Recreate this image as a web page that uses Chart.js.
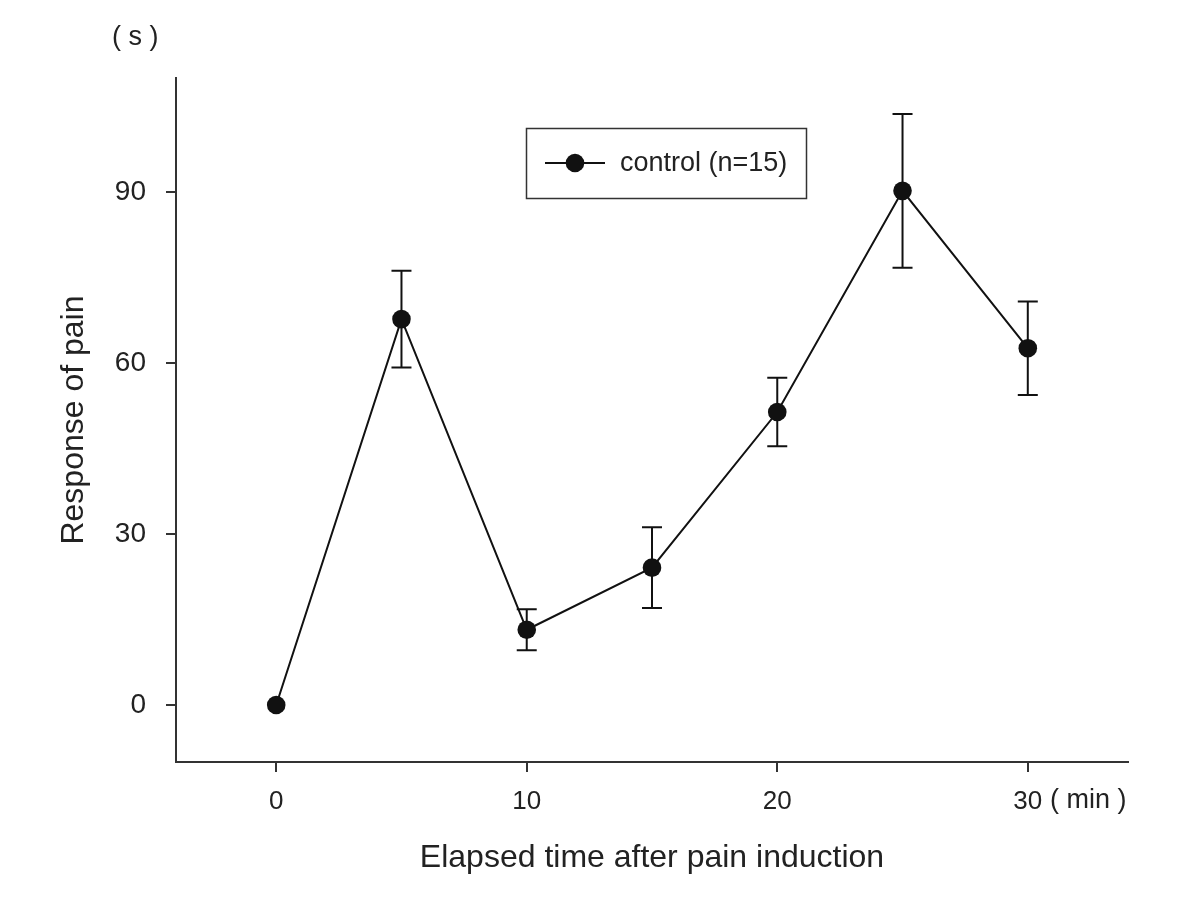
<!DOCTYPE html>
<html lang="en">
  <head>
    <meta charset="UTF-8" />
    <title>Response of pain</title>
    <script src="https://cdn.jsdelivr.net/npm/chart.js"></script>
    <style>
      html, body { margin: 0; padding: 0; background: #fff; }
      .wrap { width: 1200px; height: 897px; }
    </style>
  </head>
  <body>
    <div class="wrap"><canvas id="painChart" width="1200" height="897"></canvas></div>
    <script>
      // data
      const minutes = [0, 5, 10, 15, 20, 25, 30];
      const response = [0, 67.7, 13.2, 24.1, 51.4, 90.2, 62.6];
      const errors = [0, 8.5, 3.6, 7.1, 6.0, 13.5, 8.2];
      const xTicks = [0, 10, 20, 30];
      const yTicks = [0, 30, 60, 90];
      const seriesLabel = "control (n=15)";

      const FONT = "'Liberation Sans', Arial, sans-serif";
      const AXIS = "#333";
      const INK = "#111";

      // error bars, drawn under the markers
      const errorBars = {
        id: "errorBars",
        beforeDatasetsDraw(chart) {
          const { ctx, scales } = chart;
          ctx.save();
          ctx.strokeStyle = INK;
          ctx.lineWidth = 2;
          minutes.forEach((m, i) => {
            if (!errors[i]) return;
            const x = scales.x.getPixelForValue(m);
            const yTop = scales.y.getPixelForValue(response[i] + errors[i]);
            const yBot = scales.y.getPixelForValue(response[i] - errors[i]);
            ctx.beginPath();
            ctx.moveTo(x, yTop); ctx.lineTo(x, yBot);
            ctx.moveTo(x - 10, yTop); ctx.lineTo(x + 10, yTop);
            ctx.moveTo(x - 10, yBot); ctx.lineTo(x + 10, yBot);
            ctx.stroke();
          });
          ctx.restore();
        },
      };

      // legend box + unit labels
      const extras = {
        id: "extras",
        afterDraw(chart) {
          const { ctx } = chart;
          ctx.save();
          ctx.strokeStyle = AXIS;
          ctx.lineWidth = 1.5;
          ctx.strokeRect(526.5, 128.5, 280, 70);
          ctx.strokeStyle = INK;
          ctx.lineWidth = 2;
          ctx.beginPath();
          ctx.moveTo(545, 163); ctx.lineTo(605, 163);
          ctx.stroke();
          ctx.fillStyle = INK;
          ctx.beginPath();
          ctx.arc(575, 163, 9.3, 0, Math.PI * 2);
          ctx.fill();
          ctx.fillStyle = "#222";
          ctx.font = "27px " + FONT;
          ctx.textBaseline = "middle";
          ctx.textAlign = "left";
          ctx.fillText(chart.data.datasets[0].label, 620, 164);
          ctx.fillText("( s )", 112, 38);
          ctx.fillText("( min )", 1050, 801);
          ctx.restore();
        },
      };

      const ctx = document.getElementById("painChart").getContext("2d");
      new Chart(ctx, {
        type: "scatter",
        data: {
          datasets: [
            {
              label: seriesLabel,
              data: minutes.map((m, i) => ({ x: m, y: response[i] })),
              showLine: true,
              borderColor: INK,
              borderWidth: 2,
              backgroundColor: INK,
              pointRadius: 9.3,
              pointHoverRadius: 9.3,
              pointBorderWidth: 0,
            },
          ],
        },
        options: {
          responsive: false,
          animation: false,
          layout: { padding: { left: 0, right: 72, top: 78, bottom: 0 } },
          plugins: { legend: { display: false }, tooltip: { enabled: false } },
          scales: {
            x: {
              type: "linear",
              min: -4,
              max: 34,
              afterBuildTicks: (s) => { s.ticks = xTicks.map((v) => ({ value: v })); },
              afterFit: (s) => { s.height = 135; },
              border: { display: true, color: AXIS, width: 2 },
              grid: { drawOnChartArea: false, drawTicks: true, tickLength: 10, color: AXIS, lineWidth: 2 },
              ticks: { color: "#222", font: { family: FONT, size: 26 }, padding: 14, maxRotation: 0 },
              title: {
                display: true,
                text: "Elapsed time after pain induction",
                color: "#222",
                font: { family: FONT, size: 32 },
                padding: { top: 0, bottom: 20 },
              },
            },
            y: {
              type: "linear",
              min: -10,
              max: 110,
              afterBuildTicks: (s) => { s.ticks = yTicks.map((v) => ({ value: v })); },
              afterFit: (s) => { s.width = 176; },
              border: { display: true, color: AXIS, width: 2 },
              grid: { drawOnChartArea: false, drawTicks: true, tickLength: 10, color: AXIS, lineWidth: 2 },
              ticks: { color: "#222", font: { family: FONT, size: 28 }, padding: 20 },
              title: {
                display: true,
                text: "Response of pain",
                color: "#222",
                font: { family: FONT, size: 32 },
                padding: { top: 55, bottom: 0 },
              },
            },
          },
        },
        plugins: [errorBars, extras],
      });
    </script>
  </body>
</html>
